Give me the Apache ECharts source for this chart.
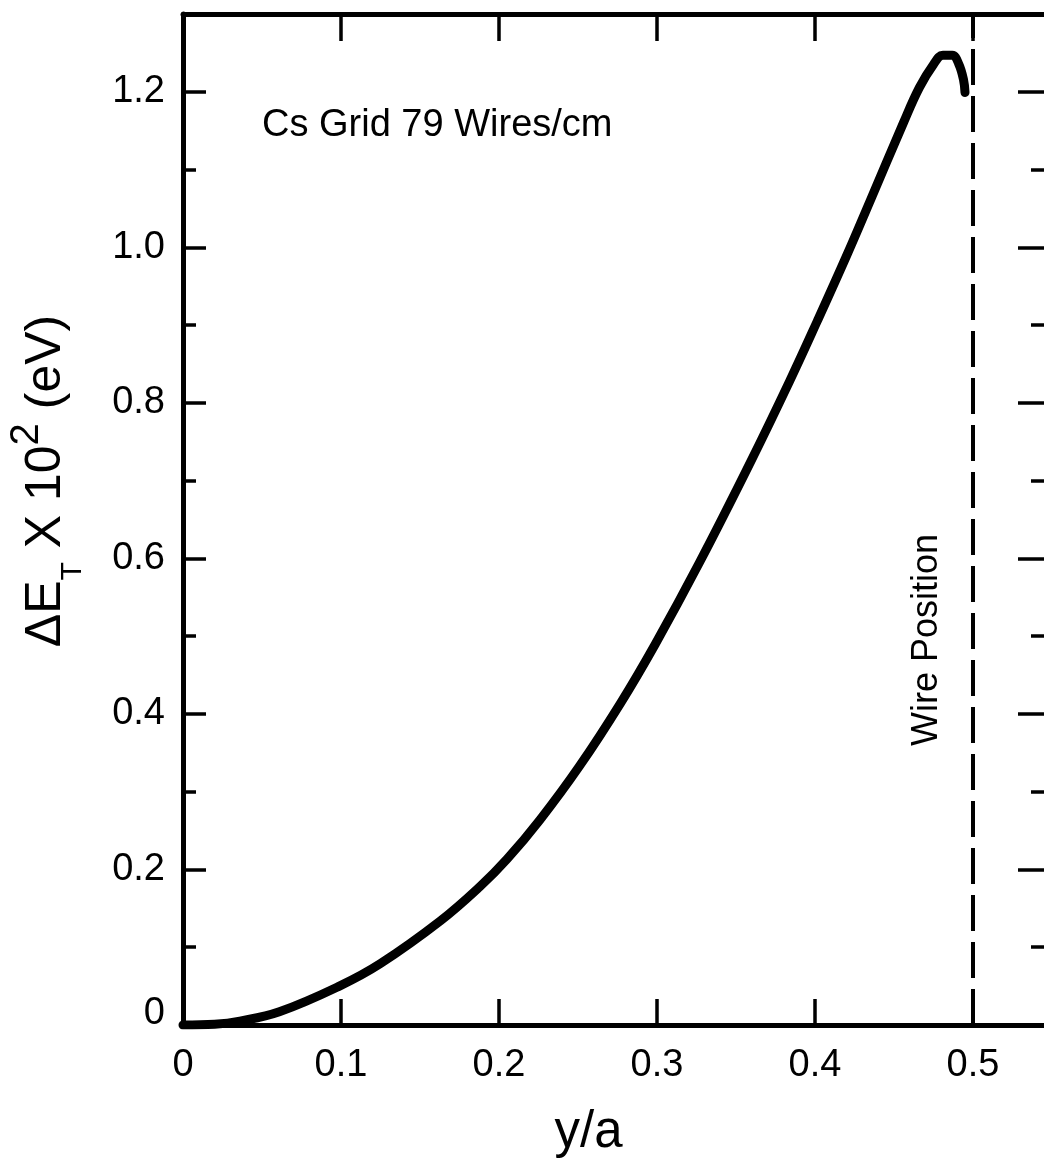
<!DOCTYPE html>
<html>
<head>
<meta charset="utf-8">
<script src="https://cdn.jsdelivr.net/npm/echarts@6/dist/echarts.min.js"></script>
<style>
html,body{margin:0;padding:0;background:#fff;}
#chart{width:1044px;height:1163px;}
</style>
</head>
<body>
<div id="chart"></div>
<script>
// ---- data ----
const curveX = [0, 0.02, 0.036, 0.061, 0.099, 0.125, 0.163, 0.188, 0.205, 0.226, 0.251, 0.277, 0.299, 0.327, 0.359, 0.384, 0.401, 0.420, 0.435, 0.456, 0.466, 0.475, 0.481, 0.487, 0.491, 0.494, 0.495];
const curveY = [0, 0.001, 0.005, 0.017, 0.050, 0.079, 0.134, 0.178, 0.213, 0.264, 0.333, 0.414, 0.490, 0.595, 0.723, 0.828, 0.903, 0.989, 1.060, 1.160, 1.205, 1.235, 1.247, 1.247, 1.236, 1.216, 1.199];
const wireX = [0.5];
const xTicks = [0, 0.1, 0.2, 0.3, 0.4, 0.5];
const yMajor = [0, 0.2, 0.4, 0.6, 0.8, 1.0, 1.2];
const yMinor = [0.1, 0.3, 0.5, 0.7, 0.9, 1.1];
const texts = {
  label: 'Cs Grid 79 Wires/cm',
  wire: 'Wire Position',
  xName: 'y/a',
  yName: '{a|ΔE}{s|T}{a| X 10}{p|2}{a| (eV)}'
};

const FONT = '"Liberation Sans", Arial, Helvetica, sans-serif';
const curve = curveX.map((x, i) => [x, curveY[i]]);

const chart = echarts.init(document.getElementById('chart'), null, {renderer: 'canvas'});

function yAxisDef(pos, values, len, withLabels, showLine) {
  return {
    type: 'value', position: pos, min: 0, max: 1.3,
    axisLine: {show: showLine, onZero: false, lineStyle: {color: '#000', width: 5}},
    axisTick: {show: true, inside: true, length: len, customValues: values, lineStyle: {color: '#000', width: 3.5}},
    axisLabel: withLabels ? {
      show: true, customValues: values, margin: 18, color: '#000', fontFamily: FONT, fontSize: 38,
      formatter: v => v === 0 ? '{z|0}' : v.toFixed(1),
      rich: {z: {fontFamily: FONT, fontSize: 38, color: '#000', padding: [0, 0, 22, 0]}}
    } : {show: false},
    splitLine: {show: false}
  };
}

const option = {
  backgroundColor: '#fff',
  animation: false,
  grid: {left: 183, right: 0, top: 14, bottom: 136, containLabel: false},
  xAxis: [
    {
      type: 'value', position: 'bottom', min: 0, max: 0.545,
      name: texts.xName, nameLocation: 'middle', nameGap: 82,
      nameTextStyle: {fontFamily: FONT, fontSize: 51, color: '#000', padding: [0, 50, 0, 0]},
      axisLine: {show: true, onZero: false, lineStyle: {color: '#000', width: 5}},
      axisTick: {show: true, inside: true, length: 26, customValues: xTicks, lineStyle: {color: '#000', width: 3.5}},
      axisLabel: {show: true, customValues: xTicks, margin: 22, color: '#000', fontFamily: FONT, fontSize: 38},
      splitLine: {show: false}
    },
    {
      type: 'value', position: 'top', min: 0, max: 0.545,
      axisLine: {show: true, onZero: false, lineStyle: {color: '#000', width: 5}},
      axisTick: {show: true, inside: true, length: 27, customValues: xTicks, lineStyle: {color: '#000', width: 3.5}},
      axisLabel: {show: false},
      splitLine: {show: false}
    }
  ],
  yAxis: [
    yAxisDef('left', yMajor, 23, true, true),
    yAxisDef('left', yMinor, 13, false, false),
    yAxisDef('right', yMajor, 26, false, false),
    yAxisDef('right', yMinor, 13, false, false)
  ],
  graphic: [
    {
      type: 'text', x: 47, y: 481, rotation: Math.PI / 2,
      style: {
        text: texts.yName, align: 'center', verticalAlign: 'middle', fill: '#000',
        rich: {
          a: {fontFamily: FONT, fontSize: 50, fill: '#000', lineHeight: 90, verticalAlign: 'top', padding: [19, 0, 0, 0]},
          s: {fontFamily: FONT, fontSize: 30, fill: '#000', lineHeight: 90, verticalAlign: 'top', padding: [56, 0, 0, 0]},
          p: {fontFamily: FONT, fontSize: 40, fill: '#000', lineHeight: 90, verticalAlign: 'top', padding: [5, 0, 0, 0]}
        }
      }
    },
    {
      type: 'text', left: 262, top: 107,
      style: {text: texts.label, fontFamily: FONT, fontSize: 38, fill: '#000'}
    },
    {
      type: 'text', x: 927, y: 640, rotation: Math.PI / 2,
      style: {text: texts.wire, fontFamily: FONT, fontSize: 36, fill: '#000', align: 'center', verticalAlign: 'middle'}
    }
  ],
  series: [
    {
      type: 'line', xAxisIndex: 0, yAxisIndex: 0,
      data: curve, smooth: 0.4, showSymbol: false, symbol: 'none',
      lineStyle: {color: '#000', width: 9, cap: 'round', join: 'round'},
      markLine: {
        silent: true, symbol: 'none', animation: false,
        label: {show: false},
        lineStyle: {color: '#000', width: 4, type: [36, 11]},
        data: wireX.map(v => ({xAxis: v}))
      }
    }
  ]
};
chart.setOption(option);
</script>
</body>
</html>
